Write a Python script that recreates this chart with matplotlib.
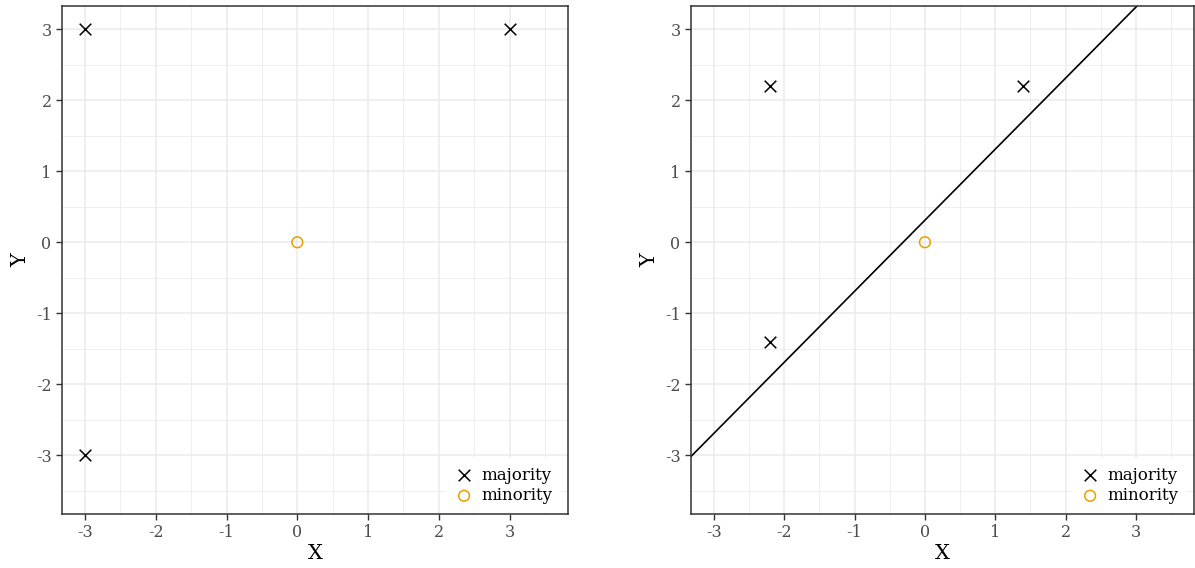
import matplotlib
matplotlib.use("Agg")
import matplotlib.pyplot as plt
import numpy as np

plt.rcParams['font.family'] = ['DejaVu Serif']
plt.rcParams['axes.unicode_minus'] = False

# Left panel data
left_major_x = [-3, 3, -3]
left_major_y = [3, 3, -3]
left_minor_x = [0]
left_minor_y = [0]

# Right panel data
right_major_x = [-2.2, 1.4, -2.2]
right_major_y = [2.2, 2.2, -1.4]
right_minor_x = [0]
right_minor_y = [0]

# Line in right panel: y = slope * x + intercept
line_slope = 1.0
line_intercept = 0.31

ticks = [-3, -2, -1, 0, 1, 2, 3]
minor_ticks = [-2.5, -1.5, -0.5, 0.5, 1.5, 2.5, 3.5]
minor_ticks_y = [-3.5, -2.5, -1.5, -0.5, 0.5, 1.5, 2.5]
xlim = (-3.325, 3.825)
ylim = (-3.825, 3.325)

ORANGE = "#E69F00"

fig = plt.figure(figsize=(11.95, 5.68), dpi=100)
ax1 = fig.add_axes([62/1195, 1-514/568, (568-62)/1195, (514-6)/568])
ax2 = fig.add_axes([691/1195, 1-514/568, (1194-691)/1195, (514-6)/568])


def style(ax):
    ax.set_xticks(ticks)
    ax.set_yticks(ticks)
    ax.set_xticks(minor_ticks, minor=True)
    ax.set_yticks(minor_ticks_y, minor=True)
    ax.tick_params(which='minor', length=0)
    ax.tick_params(which='major', length=4, width=1, color='#333333',
                   labelcolor='#4D4D4D', labelsize=11.5)
    ax.grid(which='major', color='#EBEBEB', linewidth=1.1)
    ax.grid(which='minor', color='#EBEBEB', linewidth=0.6)
    ax.set_axisbelow(True)
    for s in ax.spines.values():
        s.set_color('#333333')
        s.set_linewidth(1.1)
        s.set_zorder(6)
    ax.set_xlabel('X', fontsize=15, labelpad=2)
    ax.set_ylabel('Y', fontsize=15, labelpad=4)


for ax, mx, my, nx, ny in [(ax1, left_major_x, left_major_y, left_minor_x, left_minor_y),
                            (ax2, right_major_x, right_major_y, right_minor_x, right_minor_y)]:
    style(ax)
    ax.scatter(mx, my, marker='x', s=70, color='black', linewidths=1.1, label='majority', zorder=3)
    ax.scatter(nx, ny, marker='o', s=60, facecolors='none', edgecolors=ORANGE, linewidths=1.1,
               label='minority', zorder=3)
    leg = ax.legend(loc='lower right', bbox_to_anchor=(0.986, 0.003), frameon=True, fontsize=12,
                    handletextpad=0.45, borderaxespad=0.0, labelspacing=0.2, borderpad=0.5,
                    handlelength=1.2, fancybox=False)
    leg.get_frame().set_linewidth(0)
    leg.get_frame().set_facecolor('white')
    leg.get_frame().set_alpha(1.0)

xs = np.array(xlim)
ax2.plot(xs, line_slope * xs + line_intercept, color='black', linewidth=1.2, zorder=2)

for ax in (ax1, ax2):
    ax.set_xlim(*xlim)
    ax.set_ylim(*ylim)

fig.savefig('out.png', dpi=100)
